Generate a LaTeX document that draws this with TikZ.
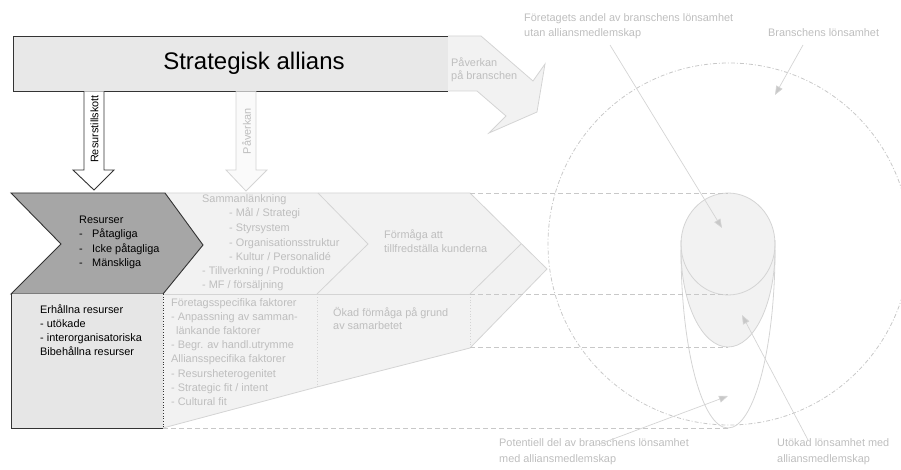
\documentclass[tikz,border=0pt]{standalone}
\usepackage{fontspec}
\setmainfont{Liberation Sans}
\usetikzlibrary{arrows.meta}
\definecolor{boxgray}{HTML}{E8E8E8}
\definecolor{lowgray}{HTML}{E6E6E6}
\definecolor{darkfill}{HTML}{A6A6A6}
\definecolor{lightfill}{HTML}{F2F2F2}
\definecolor{lightline}{HTML}{D4D4D4}
\definecolor{lighttext}{HTML}{BEBEBE}
\definecolor{darkline}{HTML}{333333}
\definecolor{dashgray}{HTML}{C8C8C8}
\begin{document}
\begin{tikzpicture}[x=1pt,y=-1pt,
  txt/.style={font=\fontsize{10.9}{13}\selectfont, inner sep=0pt, anchor=base west},
  dtxt/.style={txt, text=black},
  ftxt/.style={txt, text=lighttext},
  darkedge/.style={draw=darkline, line width=0.9pt},
  lightedge/.style={draw=lightline, line width=0.8pt},
  guide/.style={draw=dashgray, line width=0.8pt, dash pattern=on 5pt off 3pt},
  ring/.style={draw=dashgray, line width=0.8pt, dash pattern=on 4pt off 2pt on 1pt off 2pt},
  callout/.style={draw=lightline, line width=0.7pt, -{Triangle[length=9pt,width=7pt,fill=dashgray]}},
]
\useasboundingbox (0,0) rectangle (901,470);

% large dash-dot circle (industry profitability)
\begin{scope}
  \clip (0,0) rectangle (901,470);
  \draw[ring] (729,244) circle[radius=181];
\end{scope}

% light body (second and third stage)
\fill[lightfill] (165,193) -- (470,193) -- (547,269) -- (470,348) -- (317,387) -- (163,428) -- (163,294) -- (203,245) -- cycle;
\draw[lightedge] (165,193) -- (470,193) -- (547,269) -- (470,348) -- (317,387) -- (163,428);
\draw[lightedge] (318,193) -- (368,244) -- (317,294);
\draw[lightedge] (521,244) -- (470,294);
\draw[lightedge] (163,294) -- (470,294);
\draw[lightedge, dotted] (317,294) -- (317,387);
\draw[lightedge, dotted] (470,294) -- (470,348);

% top box
\fill[boxgray] (13,36) rectangle (448,91);
\draw[darkedge] (448,36) -- (13,36) -- (13,91) -- (448,91);
\node[font=\fontsize{24}{27}\selectfont, inner sep=0pt] (sa) at (254,63) {Strategisk allians};

% impact on industry arrow
\fill[lightfill] (448,36) -- (481,36) -- (533,81) -- (545,64) -- (537,112) -- (489,133) -- (506,116) -- (477,91) -- (448,91) -- cycle;
\draw[lightedge] (448,36) -- (481,36) -- (533,81) -- (545,64) -- (537,112) -- (489,133) -- (506,116) -- (477,91) -- (448,91);
\node[ftxt] (pb1) at (451,66.5) {Påverkan};
\node[ftxt] (pb2) at (451,79.5) {på branschen};

% down arrows
\draw[darkedge, fill=white] (84,91.5) -- (84,170) -- (73,170) -- (94,190) -- (114,170) -- (104,170) -- (104,91.5);
\node[dtxt, anchor=center, rotate=90] (rt) at (94.5,129) {Resurstillskott};
\draw[lightedge, fill=white!60!lightfill] (236,91.5) -- (236,170) -- (226,170) -- (246,191) -- (267,170) -- (256,170) -- (256,91.5);
\node[ftxt, anchor=center, rotate=90] (pv) at (246.5,131) {Påverkan};

% dark chevron (resources)
\draw[darkedge, fill=darkfill] (11,193) -- (165,193) -- (203,245) -- (163,294) -- (11,294) -- (61,244) -- cycle;
\node[dtxt] (r0) at (79,223) {Resurser};
\node[dtxt] (r1) at (79,237.5) {\makebox[13pt][l]{-}Påtagliga};
\node[dtxt] (r2) at (79,252) {\makebox[13pt][l]{-}Icke påtagliga};
\node[dtxt] (r3) at (79,266.5) {\makebox[13pt][l]{-}Mänskliga};

% lower gray box
\fill[lowgray] (11,294) rectangle (163,428);
\draw[darkedge] (11,294) -- (11,428) -- (163,428);
\draw[darkline, line width=0.7pt, dotted] (163,294) -- (163,428);
\node[dtxt] (e0) at (40,313) {Erhållna resurser};
\node[dtxt] (e1) at (40,327) {- utökade};
\node[dtxt] (e2) at (40,341) {- interorganisatoriska};
\node[dtxt] (e3) at (40,355) {Bibehållna resurser};

% texts in light body
\node[ftxt] (s0) at (202,203) {Sammanlänkning};
\node[ftxt] (s1) at (229,217) {- Mål / Strategi};
\node[ftxt] (s2) at (229,231.5) {- Styrsystem};
\node[ftxt] (s3) at (229,246) {- Organisationsstruktur};
\node[ftxt] (s4) at (229,260) {- Kultur / Personalidé};
\node[ftxt] (s5) at (202,274) {- Tillverkning / Produktion};
\node[ftxt] (s6) at (202,288) {- MF / försäljning};

\node[ftxt] (f0) at (384,239) {Förmåga att};
\node[ftxt] (f1) at (384,252) {tillfredställa kunderna};

\node[ftxt] (g0) at (171,306) {Företagsspecifika faktorer};
\node[ftxt] (g1) at (171,320) {- Anpassning av samman-};
\node[ftxt] (g2) at (176,334) {länkande faktorer};
\node[ftxt] (g3) at (171,348) {- Begr. av handl.utrymme};
\node[ftxt] (g4) at (171,362.5) {Alliansspecifika faktorer};
\node[ftxt] (g5) at (171,377) {- Resursheterogenitet};
\node[ftxt] (g6) at (171,391) {- Strategic fit / intent};
\node[ftxt] (g7) at (171,405) {- Cultural fit};

\node[ftxt] (k0) at (333,316) {Ökad förmåga på grund};
\node[ftxt] (k1) at (333,329) {av samarbetet};

% profitability shapes
\fill[lightfill] (681,244) arc[start angle=180, end angle=360, x radius=47, y radius=51]
  -- (775,250) arc[start angle=0, end angle=180, x radius=47, y radius=97] -- cycle;
\draw[lightedge] (728,244) ellipse[x radius=47, y radius=51];
\draw[lightedge] (681,240) -- (681,250) arc[start angle=180, end angle=0, x radius=47, y radius=97] -- (775,240);
\draw[lightedge] (681,250) arc[start angle=180, end angle=0, x radius=47, y radius=178];

% dashed guides
\draw[guide] (470,193) -- (728,193);
\draw[guide] (470,294) -- (728,294);
\draw[guide] (470,347.5) -- (728,347.5);
\draw[guide] (163,428) -- (729,428);

% callout texts
\node[ftxt] (t1a) at (524,21.5) {Företagets andel av branschens lönsamhet};
\node[ftxt] (t1b) at (524,37) {utan alliansmedlemskap};
\node[ftxt] (t2) at (768,37) {Branschens lönsamhet};
\node[ftxt] (t3a) at (499,446.5) {Potentiell del av branschens lönsamhet};
\node[ftxt] (t3b) at (499,462) {med alliansmedlemskap};
\node[ftxt] (t4a) at (777,446.5) {Utökad lönsamhet med};
\node[ftxt] (t4b) at (777,462) {alliansmedlemskap};

% callout arrows
\coordinate (c1s) at (610,45);  \coordinate (c1e) at (722,228);
\coordinate (c2s) at (803,45);  \coordinate (c2e) at (775,95);
\coordinate (c3s) at (597,445); \coordinate (c3e) at (728,396);
\coordinate (c4s) at (808,440); \coordinate (c4e) at (742,315);
\draw[callout] (c1s) -- (c1e);
\draw[callout] (c2s) -- (c2e);
\draw[callout] (c3s) -- (c3e);
\draw[callout] (c4s) -- (c4e);
\end{tikzpicture}
\end{document}
